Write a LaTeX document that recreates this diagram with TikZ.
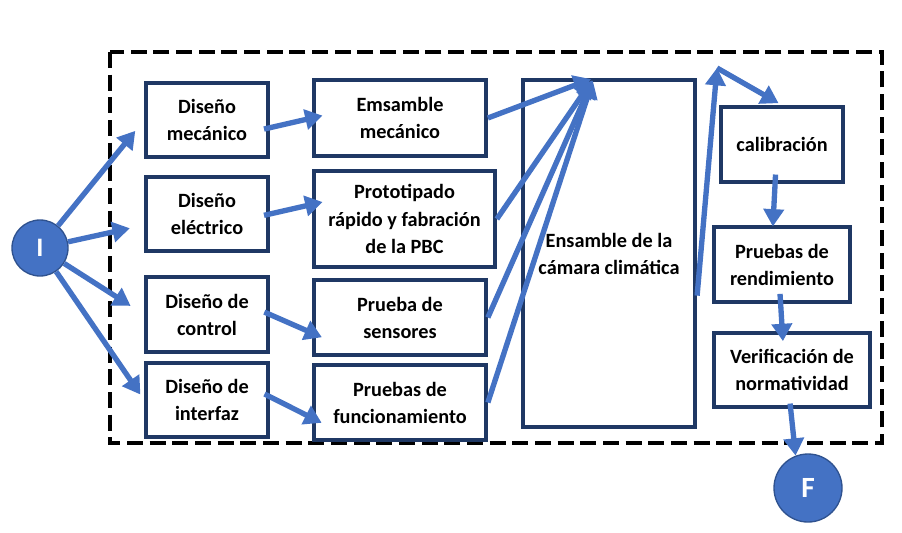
\documentclass[tikz,border=0pt]{standalone}
\usepackage{fontspec}
\setmainfont{Carlito}
\usetikzlibrary{arrows.meta}

\definecolor{azul}{HTML}{4472C4}
\definecolor{marino}{HTML}{1F3864}
\definecolor{borde}{HTML}{2F528F}

\begin{document}
\begin{tikzpicture}[x=0.75pt, y=-0.75pt,
    caja/.style={draw=marino, line width=2.8pt, fill=white, inner sep=0pt, align=center,
                 font=\fontsize{15.2}{20.3}\selectfont\bfseries},
    flecha/.style={draw=azul, line width=4pt, -{Triangle[length=13pt,width=15pt]}},
    circulo/.style={circle, draw=borde, line width=1pt, fill=azul, text=white, inner sep=0pt}]

      \useasboundingbox (0,0) rectangle (902,532);
      % Marco punteado
      \draw[black, line width=2.3pt, dash pattern=on 12pt off 5pt] (110,52) rectangle (882,443);

      % Inicio y fin
      \node[circulo, minimum size=42pt, font=\fontsize{20}{20}\selectfont\bfseries] (I) at (40,248) {I};
      \node[circulo, minimum size=51pt, font=\fontsize{22}{22}\selectfont\bfseries] (F) at (808,488) {F};

      % Etapas de diseño
      \node[caja, minimum width=91.5pt, minimum height=55.5pt] (dm) at (207,120)   {Diseño\\mecánico};
      \node[caja, minimum width=91.5pt, minimum height=55.5pt] (de) at (207,214)   {Diseño\\eléctrico};
      \node[caja, minimum width=91.5pt, minimum height=56pt]   (dc) at (207,314.5) {Diseño de\\control};
      \node[caja, minimum width=91.5pt, minimum height=55.5pt] (di) at (207,400)   {Diseño de\\interfaz};

      % Etapas de fabricación
      \node[caja, minimum width=129pt, minimum height=57pt]     (em) at (400,118)   {Emsamble\\mecánico};
      \node[caja, minimum width=135.75pt, minimum height=72pt]  (pr) at (404.5,219) {Prototipado\\rápido y fabración\\de la PBC};
      \node[caja, minimum width=129pt, minimum height=56.25pt]  (ps) at (400,317.5) {Prueba de\\sensores};
      \node[caja, minimum width=129pt, minimum height=56.25pt]  (pf) at (400,402.5) {Pruebas de\\funcionamiento};

      % Ensamble
      \node[caja, minimum width=129pt, minimum height=260.25pt] (cc) at (609,253.5) {Ensamble de la\\cámara climática};

      % Pruebas finales
      \node[caja, minimum width=91.5pt, minimum height=56.25pt] (cal) at (782,144.5) {calibración};
      \node[caja, minimum width=102pt, minimum height=56.25pt]  (pru) at (782,264.5) {Pruebas de\\rendimiento};
      \node[caja, minimum width=117pt, minimum height=55.5pt]   (ver) at (792,370)   {Verificación de\\normatividad};

      \coordinate (pico) at (717,68);

      % Flechas desde el inicio
      \draw[flecha, shorten >=10.5pt] (I) -- (dm.west);
      \draw[flecha, shorten >=11pt]   (I) -- (de.190);
      \draw[flecha, shorten >=12pt]   (I) -- (dc.west);
      \draw[flecha, shorten >=5pt]    (I) -- (di.west);

      \draw[flecha, shorten <=-4.5pt, shorten >=-8pt] (dm.-7)  -- (em.west);
      \draw[flecha, shorten <=-4.5pt, shorten >=-8pt] (de.east) -- (pr.171);
      \draw[flecha, shorten <=-4.5pt, shorten >=-8pt] (dc.east) -- (ps.190);
      \draw[flecha, shorten <=-4.5pt, shorten >=-8pt] (di.3)    -- (pf.190);

      % Hacia el ensamble
      \draw[flecha, shorten >=2pt] (em.east) -- (cc.95);
      \draw[flecha, shorten >=2pt] (pr.east) -- (cc.95);
      \draw[flecha, shorten >=2pt] (ps.east) -- (cc.95);
      \draw[flecha, shorten >=2pt] (pf.east) -- (cc.95);

      % Pruebas finales
      \draw[flecha, shorten <=2pt] (cc.-27) -- (pico);
      \draw[flecha, shorten >=3pt] (pico) -- (cal.north);
      \draw[flecha, shorten <=-7pt, shorten >=-1pt] (cal.-100) -- (pru.103);
      \draw[flecha, shorten <=-7.5pt, shorten >=-7.5pt] (pru.-92) -- (ver.104);
      \draw[flecha, shorten <=-4pt] (ver.-92) -- (F.111);

    \end{tikzpicture}
\end{document}
